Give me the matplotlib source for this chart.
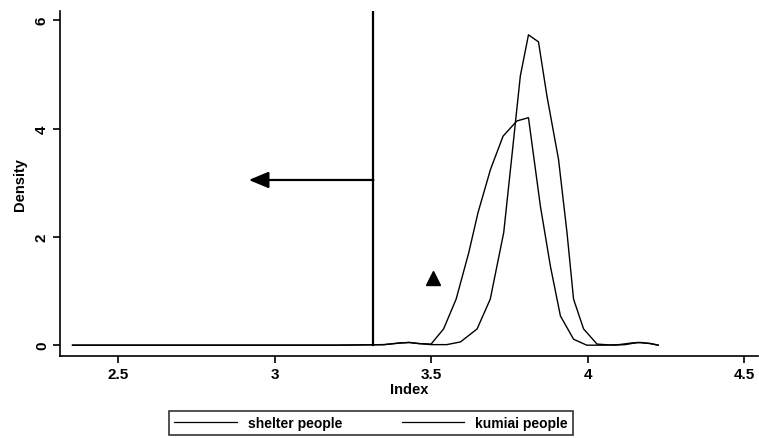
import matplotlib
matplotlib.use("Agg")
import matplotlib.pyplot as plt
from matplotlib.lines import Line2D

plt.rcParams['font.family'] = ['Liberation Sans Narrow', 'Liberation Sans', 'DejaVu Sans']

# Data
shelter_x = [2.355, 2.6, 2.8, 3.0, 3.2, 3.35, 3.40, 3.43, 3.46, 3.50, 3.54, 3.58, 3.62,
             3.65, 3.69, 3.73, 3.774, 3.811, 3.849, 3.881, 3.913, 3.955, 3.997, 4.05,
             4.10, 4.14, 4.17, 4.20, 4.225]
shelter_y = [0.0, 0.0, 0.0, 0.0, 0.0, 0.01, 0.04, 0.05, 0.03, 0.02, 0.30, 0.85, 1.70,
             2.45, 3.25, 3.86, 4.14, 4.20, 2.57, 1.46, 0.54, 0.11, 0.0, 0.0,
             0.01, 0.04, 0.05, 0.03, 0.0]

kumiai_x = [2.355, 2.6, 2.8, 3.0, 3.2, 3.35, 3.40, 3.43, 3.46, 3.50, 3.55, 3.594, 3.647,
            3.689, 3.732, 3.758, 3.785, 3.811, 3.843, 3.870, 3.907, 3.934, 3.955, 3.987,
            4.03, 4.08, 4.12, 4.16, 4.20, 4.225]
kumiai_y = [0.0, 0.0, 0.0, 0.0, 0.0, 0.01, 0.04, 0.05, 0.03, 0.01, 0.01, 0.06, 0.30,
            0.85, 2.08, 3.49, 4.97, 5.73, 5.60, 4.60, 3.43, 2.08, 0.85, 0.30,
            0.02, 0.0, 0.01, 0.05, 0.03, 0.0]

series_labels = ["shelter people", "kumiai people"]
x_ticks = [2.5, 3, 3.5, 4, 4.5]
x_ticklabels = ["2.5", "3", "3.5", "4", "4.5"]
y_ticks = [0, 2, 4, 6]
y_ticklabels = ["0", "2", "4", "6"]

cutoff_x = 3.316
arrow_tip_x = 2.918
arrow_y = 3.05
marker_x = 3.507
marker_y = 1.24

fig = plt.figure(figsize=(7.59, 4.39), dpi=100)
ax = fig.add_axes([60/759, 1-357/439, (758-60)/759, (357-12)/439])

ax.plot(shelter_x, shelter_y, color='black', lw=1.0)
ax.plot(kumiai_x, kumiai_y, color='black', lw=1.0)

ax.plot([cutoff_x, cutoff_x], [0, 6.17], color='black', lw=1.6)
ax.annotate("", xy=(arrow_tip_x, arrow_y), xytext=(cutoff_x, arrow_y),
            arrowprops=dict(arrowstyle='-|>,head_length=1.2,head_width=0.5',
                            color='black', lw=1.6, shrinkA=0, shrinkB=0))
ax.plot([marker_x], [marker_y], marker='^', color='black', markersize=10, ls='none')

ax.set_xlim(2.315, 4.544)
ax.set_ylim(-0.2, 6.17)
ax.spines['top'].set_visible(False)
ax.spines['right'].set_visible(False)
ax.spines['left'].set_linewidth(1.2)
ax.spines['bottom'].set_linewidth(1.2)

ax.set_xticks(x_ticks)
ax.set_xticklabels(x_ticklabels, fontsize=11, fontweight='bold')
ax.set_yticks(y_ticks)
ax.set_yticklabels(y_ticklabels, fontsize=11, fontweight='bold', rotation=90, va='center')
ax.tick_params(axis='both', direction='out', length=5, width=1.2, colors='black', pad=3)

ax.set_xlabel("Index", fontsize=10.5, fontweight='bold', labelpad=1)
ax.set_ylabel("Density", fontsize=10.5, fontweight='bold', labelpad=6)

handles = [Line2D([0], [0], color='black', lw=0.9), Line2D([0], [0], color='black', lw=0.9)]
leg = fig.legend(handles, series_labels, loc='lower center', ncol=2,
                 bbox_to_anchor=(371/759, -0.008), frameon=True, fancybox=False,
                 edgecolor='black', handlelength=4.5, columnspacing=4.3,
                 borderpad=0.35, handletextpad=0.8,
                 prop={'weight': 'bold', 'size': 10})
leg.get_frame().set_linewidth(1.2)

fig.savefig("out.png", dpi=100)
